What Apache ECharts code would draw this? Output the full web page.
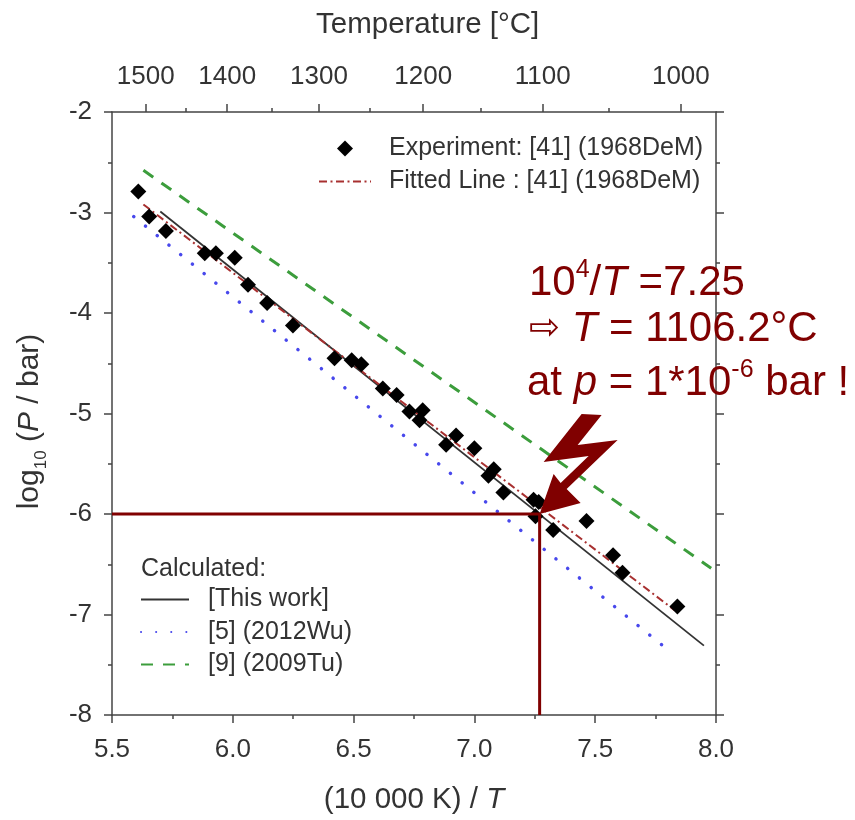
<!DOCTYPE html>
<html><head><meta charset="utf-8">
<script src="https://cdn.jsdelivr.net/npm/echarts@6/dist/echarts.min.js"></script>
<style>html,body{margin:0;padding:0;background:#fff}#c{width:855px;height:820px}</style>
</head><body><div id="c"></div>
<script>
// ---- data ----
const expX = [5.609,5.654,5.723,5.884,5.930,6.008,6.063,6.142,6.249,6.421,6.492,6.532,6.621,6.678,6.731,6.786,6.773,6.924,6.883,7.000,7.080,7.058,7.120,7.245,7.266,7.253,7.326,7.464,7.574,7.613,7.840];
const expY = [-2.79,-3.04,-3.185,-3.406,-3.406,-3.45,-3.72,-3.90,-4.125,-4.45,-4.47,-4.51,-4.75,-4.815,-4.98,-4.967,-5.066,-5.22,-5.31,-5.347,-5.555,-5.62,-5.785,-5.858,-5.881,-6.023,-6.16,-6.07,-6.41,-6.584,-6.92];
const fitX = [5.63, 7.83];   const fitY = [-2.92, -6.96];
const thisX = [5.70, 7.95];  const thisY = [-2.99, -7.31];
const wuX = [5.59, 7.78];    const wuY = [-3.04, -7.31];
const tuX = [5.63, 7.98];    const tuY = [-2.58, -6.54];
const tempTicks = [1500, 1400, 1300, 1200, 1100, 1000];
const tempMinorTicks = [1450, 1350, 1250, 1150, 1050];
const markX = 7.27, markY = -6;
const names = {
  exp: 'Experiment: [41] (1968DeM)',
  fit: 'Fitted Line : [41] (1968DeM)',
  own: '[This work]',
  wu: '[5] (2012Wu)',
  tu: '[9] (2009Tu)'
};

const toInv = t => 10000 / (t + 273.15);
const zip = (a, b) => a.map((v, i) => [v, b[i]]);
const FONT = '"Liberation Sans", Arial, sans-serif';
const TXT = '#333';
const RED = '#800000';

const chart = echarts.init(document.getElementById('c'), null, {renderer: 'canvas'});

const axisLine = {show: true, lineStyle: {color: '#444', width: 1.5}};
const tick = {show: true, length: 8, lineStyle: {color: '#444', width: 1.5}};
const minor = {show: true, splitNumber: 2, length: 4, lineStyle: {color: '#444', width: 1.5}};
const noSym = {opacity: 0};
// legend icon: a diamond centred in a 52x16 box (tiny invisible corners keep the box)
const diamondIcon = 'path://M0,0L0.01,0L0,0.01ZM17,8L26,-1L35,8L26,17ZM52,16L51.99,16L52,15.99Z';

const option = {
  animation: false,
  backgroundColor: '#fff',
  textStyle: {fontFamily: FONT},
  title: {text: 'Temperature [°C]', left: 311, top: 5,
    textStyle: {fontFamily: FONT, fontSize: 29.5, fontWeight: 'normal', color: TXT}},
  grid: {left: 112, right: 139, top: 112, bottom: 102},
  xAxis: [
    {type: 'value', position: 'bottom', min: 5.5, max: 8.0, interval: 0.5,
      axisLine, axisTick: tick, minorTick: minor, splitLine: {show: false},
      axisLabel: {fontSize: 26, color: TXT, margin: 22, fontFamily: FONT, formatter: v => v.toFixed(1)},
      name: '(10 000 K) / {i|T}', nameLocation: 'middle', nameGap: 70,
      nameTextStyle: {fontSize: 29.5, color: TXT, fontFamily: FONT,
        rich: {i: {fontSize: 29.5, fontStyle: 'italic', color: TXT, fontFamily: FONT}}}},
    {type: 'value', position: 'top', min: 5.5, max: 8.0,
      axisLine, splitLine: {show: false},
      axisTick: Object.assign({}, tick, {customValues: tempTicks.map(toInv)}),
      axisLabel: {show: true, fontSize: 26, color: TXT, margin: 22, fontFamily: FONT,
        customValues: tempTicks.map(toInv),
        formatter: v => String(Math.round(10000 / v - 273.15))}},
    {type: 'value', position: 'top', min: 5.5, max: 8.0,
      axisLine: {show: false}, splitLine: {show: false},
      axisTick: {show: true, length: 4, lineStyle: {color: '#444', width: 1.5},
        customValues: tempMinorTicks.map(toInv)},
      axisLabel: {show: false}}
  ],
  yAxis: [
    {type: 'value', position: 'left', min: -8, max: -2, interval: 1,
      axisLine, axisTick: tick, minorTick: minor, splitLine: {show: false},
      axisLabel: {fontSize: 26, color: TXT, margin: 20, fontFamily: FONT},
      name: 'log{s|10} ({i|P} / bar)', nameLocation: 'middle', nameGap: 62,
      nameTextStyle: {fontSize: 30, color: TXT, fontFamily: FONT, lineHeight: 40, padding: [0, 16, 0, 0],
        rich: {
          i: {fontSize: 30, fontStyle: 'italic', color: TXT, fontFamily: FONT, lineHeight: 40},
          s: {fontSize: 17, color: TXT, fontFamily: FONT, verticalAlign: 'bottom', lineHeight: 22}
        }}},
    {type: 'value', position: 'right', min: -8, max: -2, interval: 1,
      axisLine, axisTick: tick, minorTick: minor, splitLine: {show: false},
      axisLabel: {show: false}}
  ],
  legend: [
    {left: 313, top: 131, orient: 'vertical', itemWidth: 52, itemHeight: 16, itemGap: 8,
      data: [{name: names.exp, icon: diamondIcon}, {name: names.fit, itemStyle: noSym}],
      textStyle: {fontSize: 25, color: TXT, fontFamily: FONT, padding: [0, 0, 0, 13]}},
    {left: 135, top: 582, orient: 'vertical', itemWidth: 48, itemHeight: 16, itemGap: 7.5,
      data: [{name: names.own, itemStyle: noSym}, {name: names.wu, itemStyle: noSym}, {name: names.tu, itemStyle: noSym}],
      textStyle: {fontSize: 25, color: TXT, fontFamily: FONT, padding: [0, 0, 0, 14]}}
  ],
  series: [
    {name: names.tu, type: 'line', data: zip(tuX, tuY), showSymbol: false, symbol: 'none',
      lineStyle: {color: '#3c9d3c', width: 3, type: [12, 10]}, itemStyle: {color: '#3c9d3c'}, z: 2},
    {name: names.wu, type: 'line', data: zip(wuX, wuY), showSymbol: false, symbol: 'none',
      lineStyle: {color: '#4848ec', width: 3.5, type: [0.1, 15], cap: 'round'}, itemStyle: {color: '#4848ec'}, z: 2},
    {name: names.own, type: 'line', data: zip(thisX, thisY), showSymbol: false, symbol: 'none',
      lineStyle: {color: '#333', width: 1.8}, itemStyle: {color: '#333'}, z: 3},
    {name: names.fit, type: 'line', data: zip(fitX, fitY), showSymbol: false, symbol: 'none',
      lineStyle: {color: '#a83030', width: 2, type: [8, 3.5, 2, 3.5]}, itemStyle: {color: '#a83030'}, z: 3},
    {name: names.exp, type: 'scatter', data: zip(expX, expY), symbol: 'diamond', symbolSize: 16,
      itemStyle: {color: '#000', opacity: 1}, z: 4},
    {name: 'marker', type: 'line', data: [[5.5, markY], [markX, markY], [markX, -8]],
      showSymbol: false, symbol: 'none', lineStyle: {color: RED, width: 3}, z: 5, silent: true}
  ]
};
chart.setOption(option);

// annotation: text block and lightning arrow anchored to the marker point
const tip = chart.convertToPixel({gridIndex: 0}, [markX, markY]);
const boltShape = [[42,-100],[62,-99],[38,-69],[78,-74],[27,-25],[41,-11],[0,0],[14,-40],[21,-31],[49,-58],[4,-52]];
const aFont = 42;
const rich = {
  n: {fontSize: aFont, fontFamily: FONT, fill: RED, lineHeight: 50},
  i: {fontSize: aFont, fontFamily: FONT, fontStyle: 'italic', fill: RED, lineHeight: 50},
  s: {fontSize: 25, fontFamily: FONT, fill: RED, lineHeight: 34, verticalAlign: 'top'},
  a: {fontSize: 37, fontFamily: '"DejaVu Sans", sans-serif', fill: RED, lineHeight: 50}
};
chart.setOption({
  graphic: [
    {type: 'polygon', shape: {points: boltShape.map(p => [tip[0] + p[0], tip[1] + p[1]])},
      style: {fill: RED}, z: 100},
    {type: 'text', left: 529, top: 258, z: 100,
      style: {text: '{n|10}{s|4}{n|/}{i|T}{n| =7.25}', rich, fill: RED}},
    {type: 'text', left: 529, top: 308, z: 100,
      style: {text: '{a|⇨}{n| }{i|T}{n| = 1106.2°C}', rich, fill: RED}},
    {type: 'text', left: 527, top: 358, z: 100,
      style: {text: '{n|at }{i|p}{n| = 1*10}{s|-6}{n| bar !}', rich, fill: RED}},
    {type: 'text', left: 141, top: 557, z: 100,
      style: {text: 'Calculated:', font: '25px ' + FONT, fill: TXT}}
  ]
});
</script>
</body></html>
